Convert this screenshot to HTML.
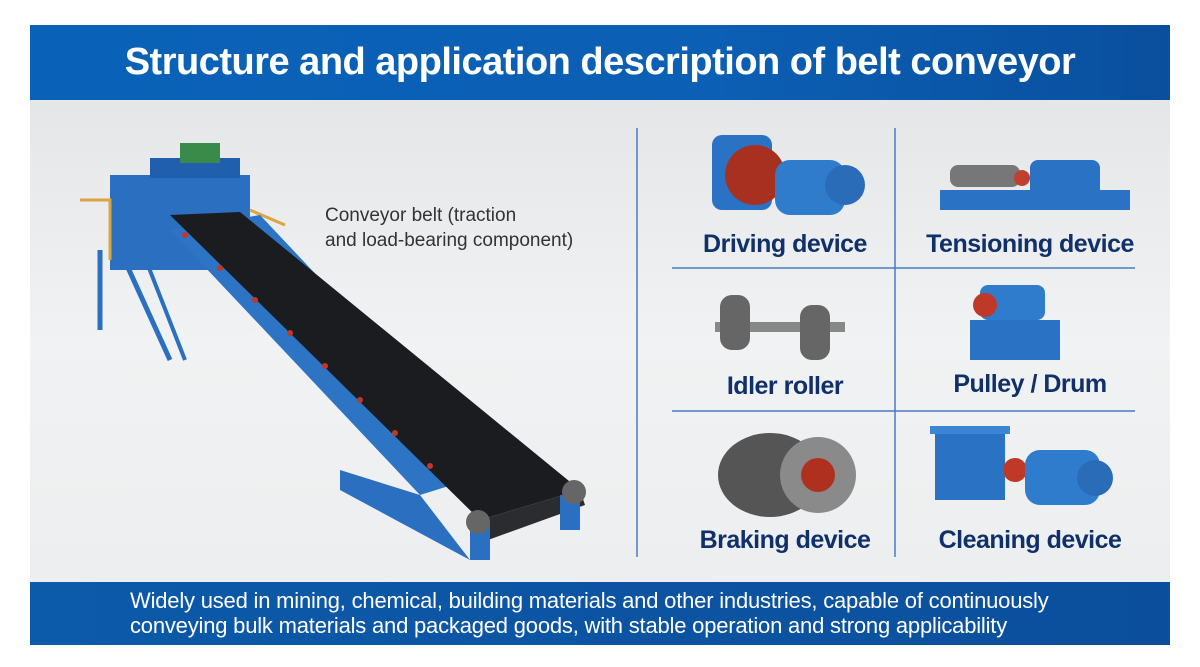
<!DOCTYPE html>
<html><head><meta charset="utf-8"><style>
body{margin:0;width:1200px;height:667px;background:#fff;position:relative;overflow:hidden;font-family:"Liberation Sans",sans-serif}
.hdr{position:absolute;left:30px;top:25px;width:1140px;height:75px;background:linear-gradient(90deg,#0a62b8,#0b5fb4 60%,#0a4f9e);color:#fff;font-weight:bold;font-size:38px;text-align:center;line-height:75px;letter-spacing:-0.5px}
.main{position:absolute;left:30px;top:100px;width:1140px;height:482px;background:linear-gradient(180deg,#e4e6e8,#f1f2f3 50%,#eceeef)}
.ftr{position:absolute;left:30px;top:582px;width:1140px;height:63px;background:linear-gradient(90deg,#0c5aaa,#0b4f9c);color:#fff;font-size:22px;line-height:25px;padding:6px 0 0 100px;box-sizing:border-box;letter-spacing:-0.2px}
.lbl{position:absolute;color:#10306a;font-weight:bold;font-size:25px;text-align:center;width:260px;letter-spacing:-0.5px}
svg{position:absolute;left:0;top:0}
</style></head><body>
<div class="hdr">Structure and application description of belt conveyor</div>
<div class="main"></div>
<div class="ftr">Widely used in mining, chemical, building materials and other industries, capable of continuously<br>conveying bulk materials and packaged goods, with stable operation and strong applicability</div>
<svg width="1200" height="667">
<rect x="110" y="175" width="140" height="95" fill="#2a6fc0"/>
<rect x="150" y="158" width="90" height="20" fill="#1f5fae"/>
<rect x="180" y="143" width="40" height="20" fill="#3a8a4a"/>
<polyline points="80,200 110,200 110,260" stroke="#d9a640" stroke-width="3" fill="none"/>
<polyline points="250,210 285,225" stroke="#d9a640" stroke-width="3" fill="none"/>
<line x1="120" y1="250" x2="170" y2="360" stroke="#2a6fc0" stroke-width="5"/>
<line x1="140" y1="245" x2="185" y2="360" stroke="#2a6fc0" stroke-width="4"/>
<line x1="100" y1="250" x2="100" y2="330" stroke="#2a6fc0" stroke-width="5"/>
<polygon points="170,230 260,215 500,470 420,495" fill="#2d74c4"/>
<polygon points="340,470 420,495 470,560 340,490" fill="#2a6fc0"/>
<polygon points="170,215 240,212 580,490 480,520" fill="#1a1c1f"/>
<g fill="#c03828">
<circle cx="185" cy="235" r="3"/><circle cx="220" cy="268" r="3"/><circle cx="255" cy="300" r="3"/><circle cx="290" cy="333" r="3"/><circle cx="325" cy="366" r="3"/><circle cx="360" cy="400" r="3"/><circle cx="395" cy="433" r="3"/><circle cx="430" cy="466" r="3"/>
</g>
<polygon points="480,520 580,490 585,505 488,540" fill="#2a2c2f"/>
<rect x="470" y="520" width="20" height="40" fill="#2a6fc0"/>
<rect x="560" y="495" width="20" height="35" fill="#2a6fc0"/>
<circle cx="478" cy="522" r="12" fill="#666"/>
<circle cx="574" cy="492" r="12" fill="#666"/>
<line x1="637" y1="128" x2="637" y2="557" stroke="#4a7bc0" stroke-width="1.5"/>
<line x1="895" y1="128" x2="895" y2="557" stroke="#4a7bc0" stroke-width="1.5"/>
<line x1="672" y1="268" x2="1135" y2="268" stroke="#4a7bc0" stroke-width="1.5"/>
<line x1="672" y1="411" x2="1135" y2="411" stroke="#4a7bc0" stroke-width="1.5"/>
<rect x="712" y="135" width="60" height="75" rx="10" fill="#2a72c4"/>
<circle cx="755" cy="175" r="30" fill="#a83020"/>
<rect x="775" y="160" width="70" height="55" rx="15" fill="#2f7ccc"/>
<circle cx="845" cy="185" r="20" fill="#2a6cb8"/>
<rect x="940" y="190" width="190" height="20" fill="#2a72c4"/>
<rect x="950" y="165" width="70" height="22" rx="8" fill="#777"/>
<rect x="1030" y="160" width="70" height="45" rx="8" fill="#2a72c4"/>
<circle cx="1022" cy="178" r="8" fill="#c04030"/>
<rect x="715" y="322" width="130" height="10" fill="#888"/>
<rect x="720" y="295" width="30" height="55" rx="12" fill="#666"/>
<rect x="800" y="305" width="30" height="55" rx="12" fill="#666"/>
<rect x="970" y="320" width="90" height="40" fill="#2a72c4"/>
<rect x="980" y="285" width="65" height="35" rx="8" fill="#2f7ccc"/>
<circle cx="985" cy="305" r="12" fill="#c03828"/>
<ellipse cx="770" cy="475" rx="52" ry="42" fill="#555"/>
<circle cx="818" cy="475" r="38" fill="#8a8a8a"/>
<circle cx="818" cy="475" r="17" fill="#b03020"/>
<rect x="935" y="430" width="70" height="70" fill="#2a72c4"/>
<rect x="930" y="426" width="80" height="8" fill="#3a86d4"/>
<circle cx="1015" cy="470" r="12" fill="#c03828"/>
<rect x="1025" y="450" width="75" height="55" rx="15" fill="#2f7ccc"/>
<circle cx="1095" cy="478" r="18" fill="#2a6cb8"/>
</svg>
<div style="position:absolute;left:325px;top:203px;font-size:19px;color:#333;line-height:25px">Conveyor belt (traction<br>and load-bearing component)</div>
<div class="lbl" style="left:655px;top:230px">Driving device</div>
<div class="lbl" style="left:900px;top:230px">Tensioning device</div>
<div class="lbl" style="left:655px;top:372px">Idler roller</div>
<div class="lbl" style="left:900px;top:370px">Pulley / Drum</div>
<div class="lbl" style="left:655px;top:526px">Braking device</div>
<div class="lbl" style="left:900px;top:526px">Cleaning device</div>
</body></html>
